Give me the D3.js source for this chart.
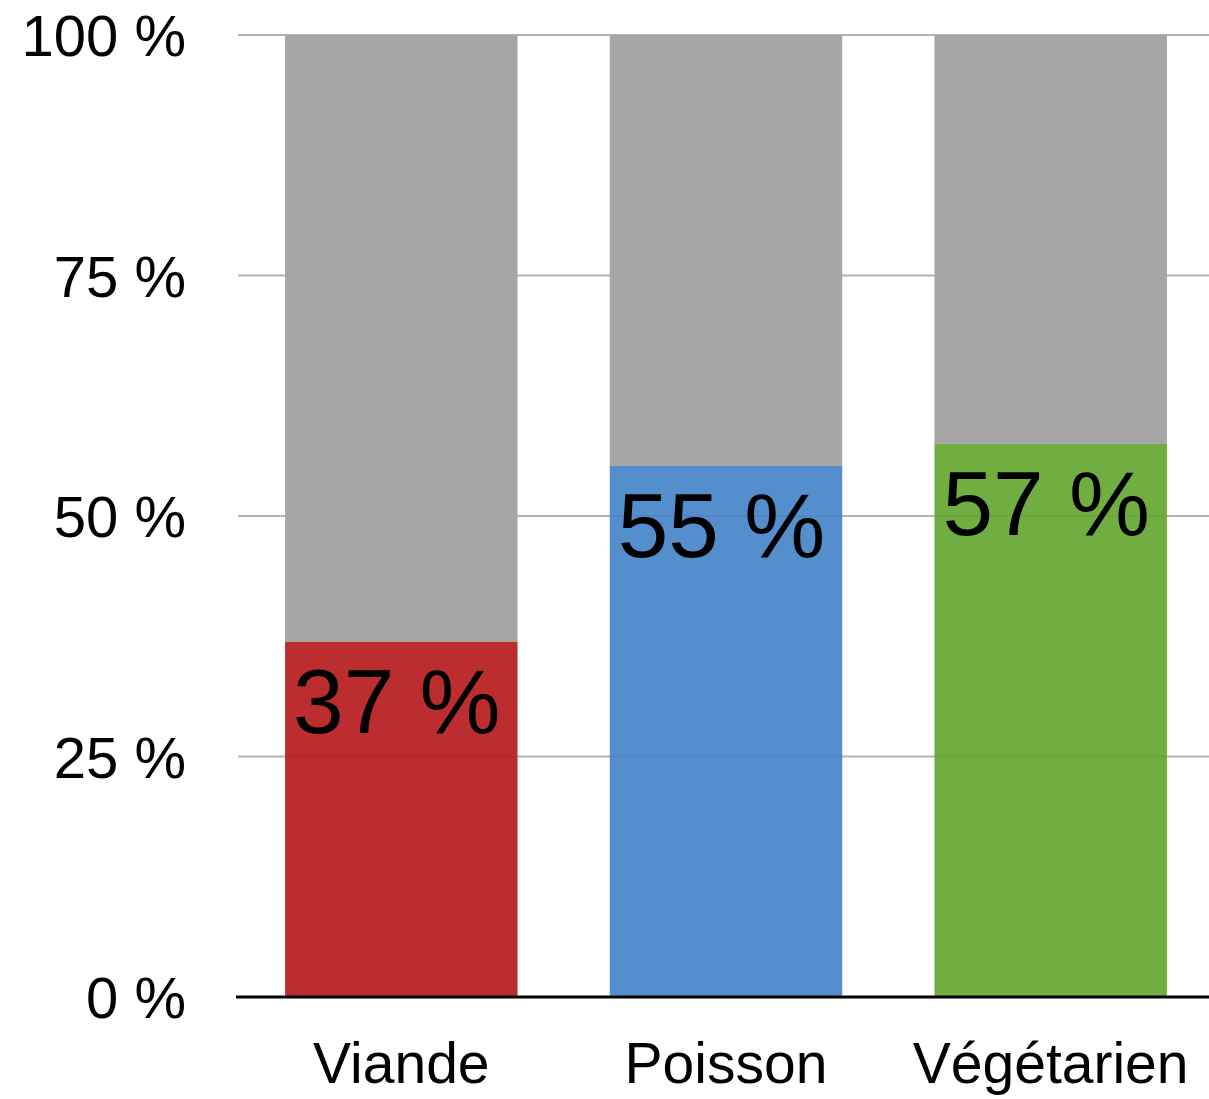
<!DOCTYPE html>
<html>
<head>
<meta charset="utf-8">
<script src="https://cdn.jsdelivr.net/npm/d3@7"></script>
<style>
  html, body { margin: 0; padding: 0; background: #fff; }
  svg { display: block; font-family: "Helvetica Neue", Helvetica, Arial, "Liberation Sans", sans-serif; }
</style>
</head>
<body>
<div id="chart"></div>
<script>
// Data
const categories = ['Viande', 'Poisson', 'Végétarien'];
const values = [36.9, 55.2, 57.5];
const labels = ['37 %', '55 %', '57 %'];
const colors = ['#bc2d30', '#558ecd', '#71ae42'];
const yTicks = [0, 25, 50, 75, 100];

const width = 1209;
const height = 1099;

const svg = d3.select('#chart')
    .append('svg')
    .attr('width', width)
    .attr('height', height);

const xScale = d3.scaleBand()
    .domain(categories)
    .range([238, 1214])
    .paddingInner(0.284)
    .paddingOuter(0.145);

const yScale = d3.scaleLinear()
    .domain([0, 100])
    .range([997, 35]);

// gridlines
svg.append('g')
    .attr('class', 'gridlines')
    .selectAll('line')
    .data(yTicks.filter(d => d > 0))
    .join('line')
    .attr('x1', 238)
    .attr('x2', width)
    .attr('y1', d => yScale(d))
    .attr('y2', d => yScale(d))
    .attr('stroke', '#b3b3b3')
    .attr('stroke-width', 2);

const rows = categories.map((c, i) => ({ cat: c, value: values[i], label: labels[i], color: colors[i] }));

// grey remainder (up to 100 %)
svg.append('g')
    .selectAll('rect')
    .data(rows)
    .join('rect')
    .attr('x', d => xScale(d.cat))
    .attr('width', xScale.bandwidth())
    .attr('y', yScale(100))
    .attr('height', d => yScale(d.value) - yScale(100))
    .attr('fill', '#a6a6a6');

// coloured part
svg.append('g')
    .selectAll('rect')
    .data(rows)
    .join('rect')
    .attr('x', d => xScale(d.cat))
    .attr('width', xScale.bandwidth())
    .attr('y', d => yScale(d.value))
    .attr('height', d => yScale(0) - yScale(d.value))
    .attr('fill', d => d.color);

// faint gridlines showing through the coloured parts only
rows.forEach(r => {
    svg.append('g')
        .selectAll('line')
        .data(yTicks.filter(d => d > 0 && d < r.value))
        .join('line')
        .attr('x1', xScale(r.cat))
        .attr('x2', xScale(r.cat) + xScale.bandwidth())
        .attr('y1', d => yScale(d))
        .attr('y2', d => yScale(d))
        .attr('stroke', '#000')
        .attr('stroke-opacity', 0.05)
        .attr('stroke-width', 2);
});

// value labels inside bars
svg.append('g')
    .selectAll('text')
    .data(rows)
    .join('text')
    .attr('x', d => xScale(d.cat) + 8)
    .attr('y', d => yScale(d.value) + 91)
    .attr('font-size', 91)
    .attr('fill', '#000')
    .text(d => d.label);

// y axis labels
svg.append('g')
    .selectAll('text')
    .data(yTicks)
    .join('text')
    .attr('x', 186)
    .attr('y', d => yScale(d) + 21)
    .attr('text-anchor', 'end')
    .attr('font-size', 58)
    .attr('fill', '#000')
    .text(d => d + ' %');

// baseline
svg.append('line')
    .attr('x1', 236)
    .attr('x2', width)
    .attr('y1', yScale(0))
    .attr('y2', yScale(0))
    .attr('stroke', '#000')
    .attr('stroke-width', 3);

// category labels
svg.append('g')
    .selectAll('text')
    .data(categories)
    .join('text')
    .attr('x', d => xScale(d) + xScale.bandwidth() / 2)
    .attr('y', 1083)
    .attr('text-anchor', 'middle')
    .attr('font-size', 57)
    .attr('fill', '#000')
    .text(d => d);
</script>
</body>
</html>
